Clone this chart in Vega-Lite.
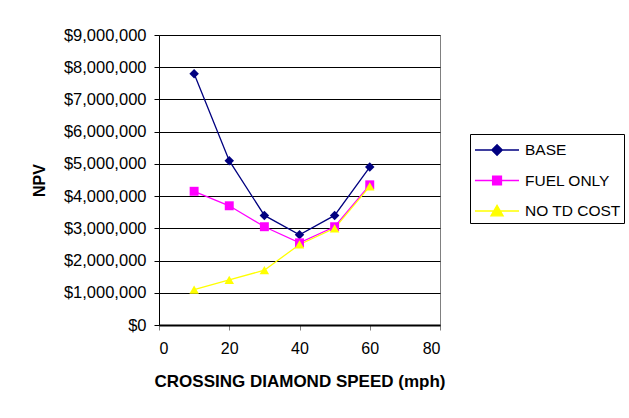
{
  "$schema": "https://vega.github.io/schema/vega-lite/v6.json",
  "autosize": "none",
  "width": 281,
  "height": 290,
  "padding": {"left": 159, "top": 35, "right": 189, "bottom": 93},
  "background": "white",
  "config": {
    "font": "Liberation Sans",
    "view": {"stroke": "#808080", "strokeWidth": 1}
  },
  "data": {
    "values": [
      {"speed": 10, "series": "BASE", "npv": 7800000},
      {"speed": 20, "series": "BASE", "npv": 5100000},
      {"speed": 30, "series": "BASE", "npv": 3400000},
      {"speed": 40, "series": "BASE", "npv": 2800000},
      {"speed": 50, "series": "BASE", "npv": 3400000},
      {"speed": 60, "series": "BASE", "npv": 4900000},
      {"speed": 10, "series": "FUEL ONLY", "npv": 4150000},
      {"speed": 20, "series": "FUEL ONLY", "npv": 3700000},
      {"speed": 30, "series": "FUEL ONLY", "npv": 3050000},
      {"speed": 40, "series": "FUEL ONLY", "npv": 2550000},
      {"speed": 50, "series": "FUEL ONLY", "npv": 3050000},
      {"speed": 60, "series": "FUEL ONLY", "npv": 4350000},
      {"speed": 10, "series": "NO TD COST", "npv": 1100000},
      {"speed": 20, "series": "NO TD COST", "npv": 1400000},
      {"speed": 30, "series": "NO TD COST", "npv": 1700000},
      {"speed": 40, "series": "NO TD COST", "npv": 2500000},
      {"speed": 50, "series": "NO TD COST", "npv": 3000000},
      {"speed": 60, "series": "NO TD COST", "npv": 4300000}
    ]
  },
  "encoding": {
    "x": {
      "field": "speed", "type": "quantitative",
      "scale": {"domain": [0, 80], "nice": false},
      "axis": {
        "values": [0, 20, 40, 60, 80],
        "title": "CROSSING DIAMOND SPEED (mph)",
        "titleFont": "Liberation Sans", "titleFontSize": 17, "titleFontWeight": "bold",
        "titleColor": "black", "titlePadding": 17,
        "labelFont": "Liberation Sans", "labelFontSize": 16, "labelColor": "black", "labelPadding": 10,
        "domainColor": "black", "domainWidth": 2,
        "tickColor": "#808080", "tickSize": 5,
        "grid": false
      }
    },
    "y": {
      "field": "npv", "type": "quantitative",
      "scale": {"domain": [0, 9000000], "nice": false},
      "axis": {
        "values": [0, 1000000, 2000000, 3000000, 4000000, 5000000, 6000000, 7000000, 8000000, 9000000],
        "format": "$,.0f",
        "title": "NPV",
        "titleFont": "Liberation Sans", "titleFontSize": 16, "titleFontWeight": "bold",
        "titleColor": "black", "titlePadding": 16,
        "labelFont": "Liberation Sans", "labelFontSize": 16.5, "labelColor": "black", "labelPadding": 8,
        "domainColor": "black", "domainWidth": 1,
        "tickColor": "black", "tickSize": 5,
        "grid": true, "gridColor": "black", "gridWidth": 1
      }
    },
    "color": {
      "field": "series", "type": "nominal",
      "scale": {"domain": ["BASE", "FUEL ONLY", "NO TD COST"], "range": ["#000080", "#FF00FF", "#FFFF00"]},
      "legend": {
        "title": null,
        "orient": "none", "legendX": 311, "legendY": 99,
        "labelFont": "Liberation Sans", "labelFontSize": 15.5, "labelColor": "black",
        "strokeColor": "black", "fillColor": "white",
        "padding": 3, "rowPadding": 8.5, "symbolSize": 576, "labelOffset": 26,
        "encode": {
          "symbols": {
            "update": {
              "shape": {"signal": "datum.value === 'BASE' ? 'M-0.92,0H2.75M0.92,-0.44L1.36,0L0.92,0.44L0.48,0Z' : datum.value === 'FUEL ONLY' ? 'M-0.92,0H2.75M0.55,-0.37H1.29V0.37H0.55Z' : 'M-0.92,0H2.75M0.92,-0.48L1.43,0.4H0.41Z'"},
              "stroke": {"scale": "color", "field": "value"},
              "fill": {"scale": "color", "field": "value"},
              "strokeWidth": {"value": 1.3},
              "opacity": {"value": 1}
            }
          }
        }
      }
    }
  },
  "layer": [
    {"mark": {"type": "line", "strokeWidth": 1.3}},
    {
      "transform": [{"filter": "datum.series === 'BASE'"}],
      "mark": {"type": "point", "shape": "diamond", "filled": true, "size": 90, "opacity": 1}
    },
    {
      "transform": [{"filter": "datum.series === 'FUEL ONLY'"}],
      "mark": {"type": "point", "shape": "square", "filled": true, "size": 80, "opacity": 1}
    },
    {
      "transform": [{"filter": "datum.series === 'NO TD COST'"}],
      "mark": {"type": "point", "shape": "triangle-up", "filled": true, "size": 90, "opacity": 1}
    }
  ]
}
